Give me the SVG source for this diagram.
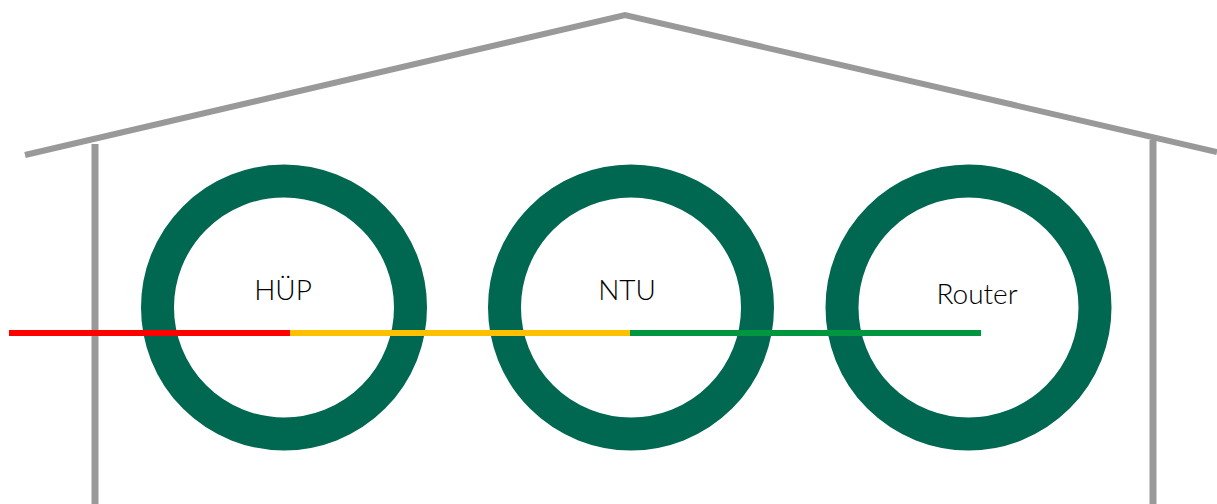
<svg xmlns="http://www.w3.org/2000/svg" width="1217" height="504" viewBox="0 0 1217 504">
<style>
.house{stroke:#999999;stroke-width:6;fill:none}
.wall{stroke:#999999;stroke-width:7;fill:none}
.ring{fill:none;stroke:#006750;stroke-width:33}
.lbl{font-family:Lato,"Open Sans",sans-serif;font-size:28px;font-weight:300;fill:#000;text-anchor:middle}
.seg{stroke-width:6;fill:none}
</style>
<rect width="1217" height="504" fill="#ffffff"/>
<g id="house">
<polyline class="house" points="25,155 625,15 1217,152"/>
<line class="wall" x1="95" y1="144" x2="95" y2="504"/>
<line class="wall" x1="1153" y1="140" x2="1153" y2="504"/>
</g>
<g id="huep">
<circle class="ring" cx="284" cy="307.5" r="126.5"/>
<text class="lbl" x="283" y="300">HÜP</text>
</g>
<g id="ntu">
<circle class="ring" cx="631" cy="307.5" r="126.5"/>
<text class="lbl" x="627" y="300">NTU</text>
</g>
<g id="router">
<circle class="ring" cx="968.5" cy="307.5" r="126.5"/>
<text class="lbl" x="977" y="304">Router</text>
</g>
<g id="connectors">
<line class="seg" stroke="#ff0000" x1="9" y1="333" x2="290" y2="333"/>
<line class="seg" stroke="#ffc000" x1="290" y1="333" x2="630" y2="333"/>
<line class="seg" stroke="#009640" x1="630" y1="333" x2="981" y2="333"/>
</g>
</svg>
